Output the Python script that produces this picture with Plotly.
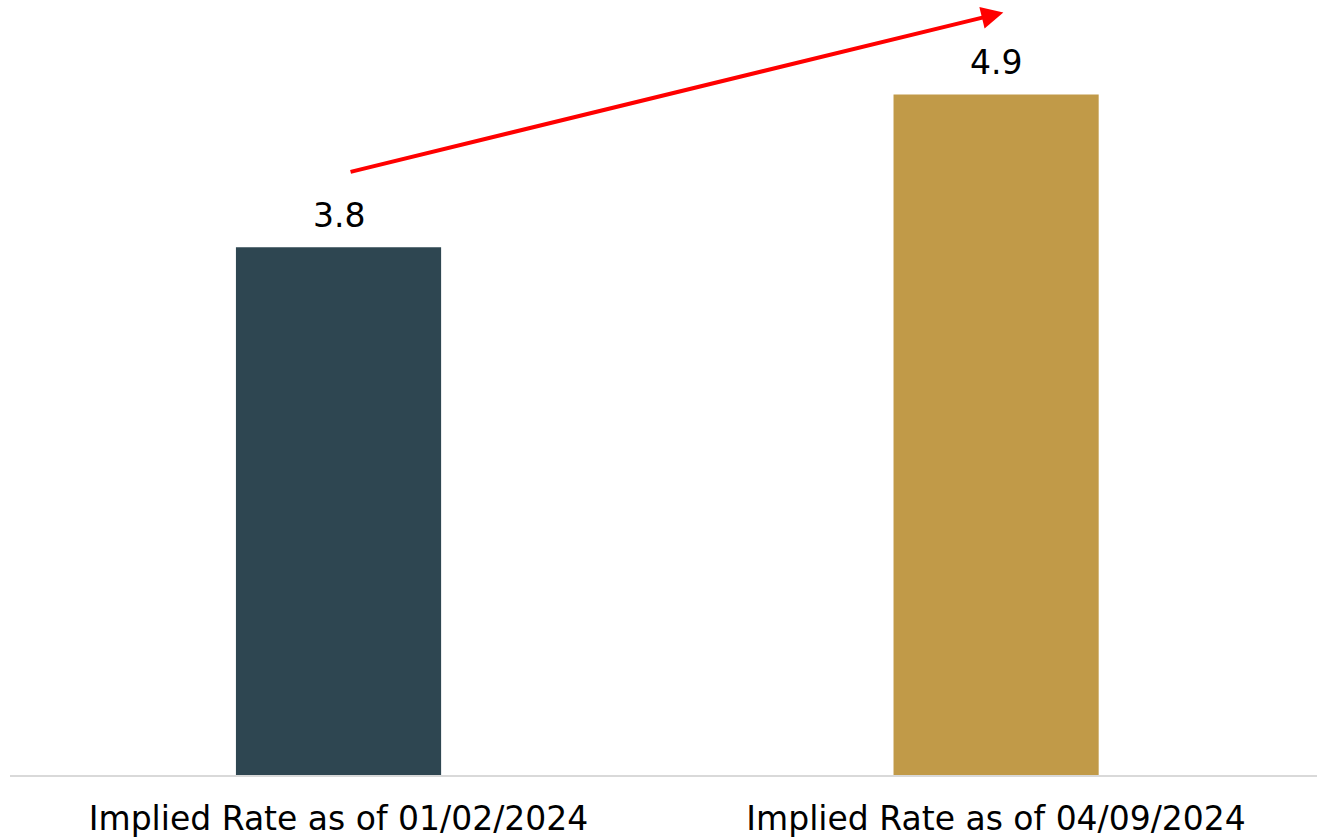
import plotly.graph_objects as go

categories = ["Implied Rate as of 01/02/2024", "Implied Rate as of 04/09/2024"]
values = [3.8, 4.9]
bar_colors = ["#2E4651", "#C19A48"]

# trend arrow endpoints in data units (category index, rate)
arrow_start = (0.016, 4.34)
arrow_end = (1.011, 5.49)

FONT = "DejaVu Sans, Verdana"

fig = go.Figure()
fig.add_trace(go.Bar(
    x=[0, 1],
    y=values,
    marker=dict(color=bar_colors, line=dict(width=0)),
    width=0.312,
    hoverinfo="skip",
))

# value labels above each bar
for i, v in enumerate(values):
    fig.add_annotation(
        x=i, y=v, xref="x", yref="y",
        text=f"{v:.1f}", showarrow=False,
        yanchor="bottom", yshift=10,
        font=dict(size=33, color="#000000", family=FONT),
    )

fig.add_annotation(
    x=arrow_end[0], y=arrow_end[1],
    ax=arrow_start[0], ay=arrow_start[1],
    xref="x", yref="y", axref="x", ayref="y",
    showarrow=True, arrowhead=2, arrowsize=1.1, arrowwidth=4,
    arrowcolor="#FF0000", text="",
)

fig.update_layout(
    width=1317, height=838,
    margin=dict(l=10, r=0, t=0, b=63),
    plot_bgcolor="#FFFFFF", paper_bgcolor="#FFFFFF",
    showlegend=False,
    font=dict(family=FONT, size=33, color="#000000"),
    xaxis=dict(
        range=[-0.4996, 1.488],
        tickvals=[0, 1], ticktext=categories,
        showline=True, linecolor="#D9D9D9", linewidth=2,
        showgrid=False, zeroline=False, ticks="",
        ticklabelstandoff=13,
        tickfont=dict(size=33, color="#000000"),
    ),
    yaxis=dict(
        range=[0, 5.58], visible=False, showgrid=False, zeroline=False,
    ),
)

fig.write_html("out.html")
